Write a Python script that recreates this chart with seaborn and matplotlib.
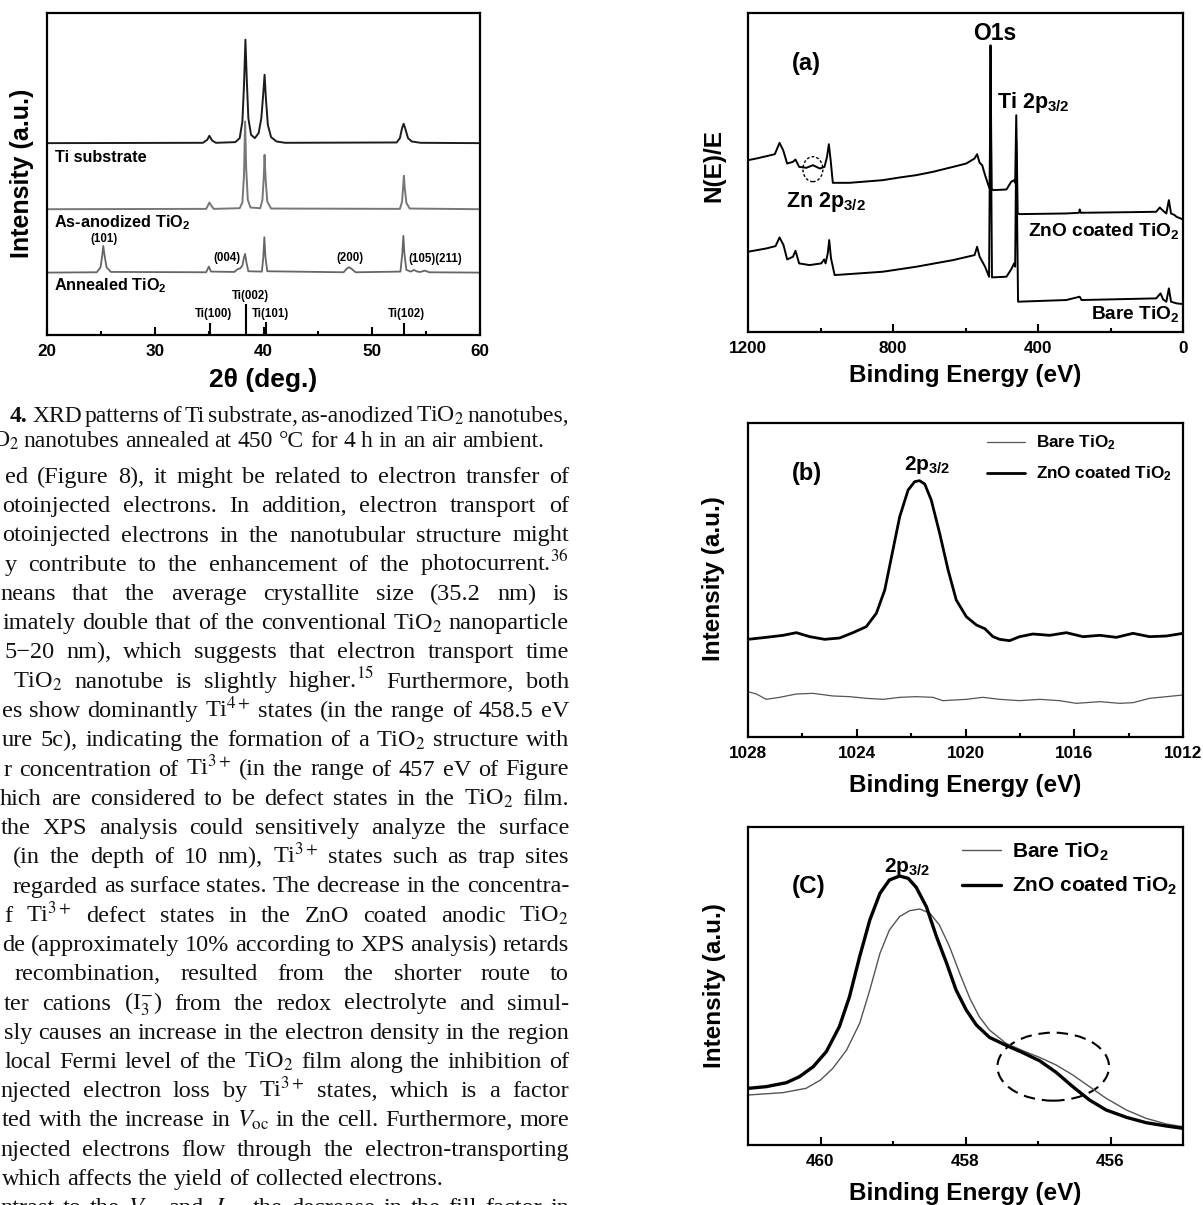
import matplotlib
matplotlib.use("Agg")
import matplotlib.pyplot as plt
from matplotlib.patches import Ellipse
import seaborn as sns

# ---------------------------------------------------------------- data
# XRD patterns: 2theta (deg) and intensity (a.u.)
ti_sub_2t = [20, 34.4, 34.8, 35.0, 35.25, 35.6, 37.4, 37.8, 38.05, 38.2, 38.33, 38.45, 38.6, 38.85,
             39.2, 39.55, 39.8, 39.97, 40.1, 40.22, 40.4, 40.7, 41.2, 42.0, 52.3, 52.6, 52.8, 52.95,
             53.1, 53.35, 53.7, 54.5, 59.9]
ti_sub_int = [57.5, 57.6, 58.5, 59.7, 58.3, 57.6, 57.8, 59.0, 64.0, 75.0, 88.5, 77.0, 65.0, 60.0,
              59.0, 60.5, 65.0, 72.0, 78.0, 71.0, 63.0, 59.3, 58.0, 57.6, 57.7, 59.0, 62.0, 63.3,
              61.8, 59.0, 58.0, 57.6, 57.5]

as_anod_2t = [20, 34.7, 34.9, 35.0, 35.15, 35.4, 37.8, 38.05, 38.2, 38.3, 38.4, 38.55, 38.8, 39.7,
              39.9, 40.02, 40.1, 40.2, 40.35, 40.7, 52.6, 52.8, 52.9, 52.97, 53.05, 53.2, 53.5, 59.9]
as_anod_int = [37.7, 37.8, 39.0, 39.7, 38.9, 37.8, 38.0, 39.7, 48.0, 64.0, 50.0, 40.5, 38.2, 38.0,
               40.5, 47.0, 54.0, 46.5, 40.0, 37.9, 37.8, 40.0, 44.5, 47.7, 44.0, 39.6, 37.9, 37.7]

annealed_2t = [20, 24.6, 24.95, 25.1, 25.2, 25.32, 25.5, 25.9, 34.7, 34.95, 35.15, 37.3, 37.6, 37.85,
               38.05, 38.2, 38.3, 38.42, 38.6, 39.85, 39.98, 40.08, 40.18, 40.35, 47.4, 47.7, 47.9,
               48.15, 48.5, 52.65, 52.82, 52.92, 53.02, 53.2, 53.6, 53.9, 54.2, 54.5, 54.9, 55.3, 59.9]
annealed_int = [18.7, 18.8, 20.3, 23.8, 26.7, 23.8, 20.3, 18.9, 18.8, 20.5, 19.0, 18.9, 19.7, 20.0,
                20.8, 23.3, 24.3, 21.8, 19.1, 19.0, 23.3, 29.3, 23.3, 19.1, 18.8, 19.9, 20.3,
                19.8, 18.8, 19.0, 24.3, 29.7, 24.3, 19.5, 19.0, 19.5, 19.0, 18.9, 19.3, 18.8, 18.7]

ti_ref_pos = [35.1, 38.4, 40.2, 53.0]
ti_ref_height = [3.7, 9.3, 4.0, 3.5]
ti_ref_labels = ["Ti(100)", "Ti(002)", "Ti(101)", "Ti(102)"]

anatase_labels = ["(101)", "(004)", "(200)", "(105)(211)"]

# XPS survey: binding energy (eV) and N(E)/E
zno_survey_be = [1200, 1177, 1149, 1126, 1113, 1103, 1092, 1076, 1069, 1059, 1039, 1021, 1002, 989,
                 982, 977, 972, 966, 920, 828, 782, 736, 690, 634, 598, 575, 568, 561, 554, 546,
                 537, 533, 531, 528, 524, 487, 474, 466, 463, 460, 456, 451, 322, 287, 285, 282,
                 138, 74, 64, 57, 46, 39, 33, 23, 18, 0]
zno_survey_int = [51.6, 52.1, 52.8, 53.4, 56.8, 54.6, 50.6, 51.1, 51.8, 49.6, 49.3, 50.1, 49.1, 49.6,
                  52.6, 56.4, 51.6, 44.8, 44.8, 45.6, 46.4, 47.1, 48.1, 49.6, 50.6, 52.1, 53.4, 50.8,
                  50.1, 47.1, 44.1, 43.1, 86.1, 43.1, 42.6, 42.8, 45.1, 45.6, 44.8, 65.1, 35.6, 35.4,
                  35.6, 35.8, 36.8, 35.8, 36.0, 36.1, 37.4, 36.6, 35.6, 39.6, 35.6, 35.1, 34.6, 33.8]

bare_survey_be = [1200, 1149, 1124, 1113, 1102, 1092, 1076, 1069, 1059, 1030, 998, 990, 986, 980, 976,
                  971, 961, 920, 828, 736, 634, 575, 568, 561, 546, 535, 531, 527, 487, 474, 466,
                  463, 460, 455, 322, 285, 280, 74, 62, 55, 46, 39, 33, 18, 0]
bare_survey_int = [24.1, 25.1, 25.8, 28.4, 26.1, 21.8, 22.6, 24.4, 20.6, 20.1, 20.6, 21.8, 20.6, 23.6,
                   27.6, 22.1, 17.1, 17.4, 18.1, 19.6, 21.6, 23.1, 25.6, 22.6, 19.6, 16.6, 79.6, 16.4,
                   16.6, 18.8, 20.6, 19.6, 57.6, 9.1, 9.6, 10.6, 9.6, 10.1, 11.6, 9.8, 9.1, 13.1, 9.1,
                   8.6, 8.4]

# Zn 2p3/2 core level
zn_zno_be = [1028.00, 1027.33, 1026.71, 1026.22, 1025.73, 1025.18, 1024.63, 1024.14, 1023.65, 1023.28,
             1022.97, 1022.67, 1022.42, 1022.11, 1021.87, 1021.69, 1021.50, 1021.26, 1020.95, 1020.64,
             1020.34, 1019.97, 1019.60, 1019.29, 1018.99, 1018.74, 1018.38, 1018.01, 1017.52, 1016.90,
             1016.29, 1015.68, 1015.06, 1014.45, 1013.84, 1013.23, 1012.61, 1012.00]
zn_zno_int = [29.3, 29.9, 30.5, 31.3, 30.1, 29.3, 29.7, 31.3, 33.1, 37.1, 44.1, 56.1, 66.1, 74.1, 76.6,
              76.9, 75.9, 71.1, 61.1, 50.1, 41.1, 36.1, 33.6, 32.5, 30.1, 29.3, 28.9, 30.1, 30.9,
              30.5, 31.3, 30.1, 30.5, 29.9, 31.1, 30.1, 30.3, 31.1]

zn_bare_be = [1028.00, 1027.69, 1027.33, 1026.84, 1026.22, 1025.61, 1024.87, 1024.26, 1023.65, 1023.03,
              1022.42, 1021.81, 1021.20, 1020.83, 1019.97, 1019.36, 1018.74, 1018.01, 1017.27, 1016.54,
              1015.92, 1015.06, 1014.33, 1013.84, 1013.23, 1012.61, 1012.00]
zn_bare_int = [13.6, 12.9, 11.3, 11.9, 12.9, 13.1, 12.3, 12.1, 11.6, 11.3, 11.9, 12.1, 11.9, 10.9, 11.3,
               11.9, 11.3, 10.9, 11.3, 10.9, 10.1, 10.6, 10.1, 10.3, 11.6, 12.1, 12.6]

# Ti 2p3/2 core level
ti_zno_be = [461.00, 460.75, 460.47, 460.29, 460.10, 459.92, 459.74, 459.60, 459.46, 459.32, 459.18,
             459.05, 458.91, 458.79, 458.68, 458.54, 458.40, 458.26, 458.13, 457.99, 457.85, 457.67,
             457.44, 457.21, 456.98, 456.75, 456.52, 456.29, 456.06, 455.78, 455.51, 455.23, 455.00]
ti_zno_int = [17.0, 17.5, 18.7, 20.5, 23.5, 28.0, 35.5, 44.5, 56.5, 67.5, 75.5, 79.5, 80.7, 80.0, 77.3,
              71.5, 62.5, 54.5, 46.5, 40.5, 36.0, 32.3, 29.9, 27.7, 25.3, 21.8, 17.5, 13.5, 10.5, 8.3,
              6.7, 5.7, 5.0]

ti_bare_be = [461.00, 460.52, 460.20, 460.00, 459.83, 459.64, 459.46, 459.32, 459.18, 459.05, 458.91,
              458.77, 458.63, 458.49, 458.36, 458.22, 458.08, 457.94, 457.81, 457.67, 457.44, 457.21,
              456.98, 456.75, 456.52, 456.29, 456.06, 455.78, 455.51, 455.23, 455.00]
ti_bare_int = [15.0, 15.7, 17.0, 19.5, 23.0, 28.5, 36.5, 46.5, 57.5, 64.5, 68.5, 70.3, 70.8, 69.5, 66.0,
               59.5, 51.5, 44.0, 38.5, 34.5, 30.5, 28.3, 26.3, 24.0, 21.0, 17.5, 14.0, 10.5, 8.0, 6.3,
               5.5]

xrd_ticks = [20, 30, 40, 50, 60]
survey_ticks = [1200, 800, 400, 0]
zn_ticks = [1028, 1024, 1020, 1016, 1012]
ti_ticks = [460, 458, 456]

# ---------------------------------------------------------------- page text
caption_lines = [
    (32, 422, "XRD patterns of Ti substrate, as-anodized TiO$_2$ nanotubes,", True),
    (23, 447, "nanotubes annealed at 450 \u00b0C for 4 h in an air ambient.", False),
]
body_lines = [
    (5, "ed (Figure 8), it might be related to electron transfer of", True),
    (2, "otoinjected electrons. In addition, electron transport of", True),
    (2, "otoinjected electrons in the nanotubular structure might", True),
    (5, "y contribute to the enhancement of the photocurrent.$^{36}$", True),
    (0, "neans that the average crystallite size (35.2 nm) is", True),
    (3, "imately double that of the conventional TiO$_2$ nanoparticle", True),
    (4, "5\u221220 nm), which suggests that electron transport time", True),
    (13, "TiO$_2$ nanotube is slightly higher.$^{15}$ Furthermore, both", True),
    (2, "es show dominantly Ti$^{4+}$ states (in the range of 458.5 eV", True),
    (2, "ure 5c), indicating the formation of a TiO$_2$ structure with", True),
    (4, "r concentration of Ti$^{3+}$ (in the range of 457 eV of Figure", True),
    (0, "hich are considered to be defect states in the TiO$_2$ film.", True),
    (1, "the XPS analysis could sensitively analyze the surface", True),
    (13, "(in the depth of 10 nm), Ti$^{3+}$ states such as trap sites", True),
    (13, "regarded as surface states. The decrease in the concentra-", True),
    (4, "f Ti$^{3+}$ defect states in the ZnO coated anodic TiO$_2$", True),
    (2, "de (approximately 10% according to XPS analysis) retards", True),
    (15, "recombination, resulted from the shorter route to", True),
    (4, "ter cations (I$_3^{-}$) from the redox electrolyte and simul-", True),
    (4, "sly causes an increase in the electron density in the region", True),
    (5, "local Fermi level of the TiO$_2$ film along the inhibition of", True),
    (0, "njected electron loss by Ti$^{3+}$ states, which is a factor", True),
    (2, "ted with the increase in $V_{\\mathrm{oc}}$ in the cell. Furthermore, more", True),
    (0, "njected electrons flow through the electron-transporting", True),
    (2, "which affects the yield of collected electrons.", False),
    (0, "ntrast to the $V_{\\mathrm{oc}}$ and $J_{\\mathrm{sc}}$, the decrease in the fill factor in", True),
]

# ---------------------------------------------------------------- style
sns.set_theme(style="ticks")
plt.rcParams.update({
    "font.family": ["Liberation Sans", "DejaVu Sans"],
    "font.weight": "normal",
    "axes.labelweight": "bold",
    "mathtext.fontset": "custom",
    "mathtext.rm": "Liberation Sans:bold",
    "mathtext.it": "Liberation Sans:italic:bold",
    "mathtext.bf": "Liberation Sans:bold",
    "mathtext.sf": "Liberation Sans:bold",
    "axes.edgecolor": "black",
    "axes.linewidth": 1.6,
    "text.color": "black",
    "axes.labelcolor": "black",
    "xtick.color": "black",
    "figure.facecolor": "white",
    "axes.facecolor": "white",
})

W, H = 1203, 1205
fig = plt.figure(figsize=(W / 100, H / 100), dpi=100)
B = "bold"


def fx(px):
    return px / W


def fy(py):
    return 1 - py / H


def add_axes(left, top, right, bottom):
    return fig.add_axes([left / W, 1 - bottom / H, (right - left) / W, (bottom - top) / H])


def style_axes(ax, xlim, ylim, major, minor):
    ax.set_xlim(*xlim)
    ax.set_ylim(*ylim)
    ax.set_xticks(major, labels=[str(v) for v in major], fontweight=B)
    ax.set_xticks(minor, minor=True)
    ax.set_yticks([])
    ax.tick_params(axis="x", which="both", direction="in", top=False, bottom=True,
                   width=1.5, colors="black")
    ax.tick_params(axis="x", which="major", length=5.5, labelsize=12.3, pad=6.5)
    ax.tick_params(axis="x", which="minor", length=3)
    for sp in ax.spines.values():
        sp.set_visible(True)
        sp.set_linewidth(1.6)
        sp.set_color("black")


def line(ax, x, y, color, lw, label=None):
    sns.lineplot(x=x, y=y, ax=ax, color=color, linewidth=lw, sort=False,
                 estimator=None, label=label, legend=label is not None)


# ---------------------------------------------------------------- XRD
ax0 = add_axes(47, 13, 480, 335)
line(ax0, ti_sub_2t, ti_sub_int, "#1c1c1c", 1.4)
line(ax0, as_anod_2t, as_anod_int, "#777777", 1.4)
line(ax0, annealed_2t, annealed_int, "#666666", 1.3)
ax0.vlines(ti_ref_pos, 0, ti_ref_height, color="black", lw=1.5)
style_axes(ax0, (20, 60), (0, 96.5), xrd_ticks, [25, 35, 45, 55])
ax0.set_xlabel("2\u03b8 (deg.)", fontsize=19, fontweight=B, va="top")
ax0.xaxis.set_label_coords(0.5, -0.103)
ax0.set_ylabel("Intensity (a.u.)", fontsize=18, fontweight=B)
ax0.yaxis.set_label_coords(-0.03, 0.503)

ax0.text(20.77, 51.7, "Ti substrate", fontsize=11.7, fontweight=B, ha="left", va="baseline")
ax0.text(20.68, 32.3, "As-anodized TiO$_2$", fontsize=11.7, fontweight=B, ha="left", va="baseline")
ax0.text(20.68, 13.3, "Annealed TiO$_2$", fontsize=11.7, fontweight=B, ha="left", va="baseline")
for (px, py), lab in zip([(25.23, 28.7), (36.6, 23.2), (47.94, 23.2), (55.85, 22.7)], anatase_labels):
    ax0.text(px, py, lab, fontsize=8.3, fontweight=B, ha="center", va="center")
for (px, py), lab in zip([(35.38, 6.3), (38.77, 11.7), (40.68, 6.3), (53.17, 6.3)], ti_ref_labels):
    ax0.text(px, py, lab, fontsize=8.3, fontweight=B, ha="center", va="center")

# ---------------------------------------------------------------- XPS survey
axa = add_axes(748, 13, 1183, 332)
line(axa, zno_survey_be, zno_survey_int, "black", 1.4)
line(axa, bare_survey_be, bare_survey_int, "black", 1.4)
style_axes(axa, (1200, 0), (0, 95.8), survey_ticks, [1000, 600, 200])
axa.set_xlabel("Binding Energy (eV)", fontsize=17.5, fontweight=B, va="top")
axa.xaxis.set_label_coords(0.5, -0.1)
axa.set_ylabel("N(E)/E", fontsize=17.5, fontweight=B)
axa.yaxis.set_label_coords(-0.051, 0.523)
axa.text(520, 87.8, "O1s", fontsize=16.5, fontweight=B, ha="center", va="baseline")
axa.text(1039, 80.6, "(a)", fontsize=17, fontweight=B, ha="center", va="center")
axa.text(512, 67.4, "Ti 2p$_{3/2}$", fontsize=15.5, fontweight=B, ha="left", va="baseline")
axa.text(1096, 37.6, "Zn 2p$_{3/2}$", fontsize=15.5, fontweight=B, ha="left", va="baseline")
axa.text(9, 28.8, "ZnO coated TiO$_2$", fontsize=13.8, fontweight=B, ha="right", va="baseline")
axa.text(9, 3.8, "Bare TiO$_2$", fontsize=13.8, fontweight=B, ha="right", va="baseline")
axa.add_patch(Ellipse((1021, 48.9), 55, 7.5, fill=False, ec="black", lw=1.0, ls=(0, (2, 1.5))))

# ---------------------------------------------------------------- Zn 2p
axb = add_axes(748, 423, 1183, 737)
line(axb, zn_bare_be, zn_bare_int, "#555555", 0.9, "Bare TiO$_2$")
line(axb, zn_zno_be, zn_zno_int, "black", 2.0, "ZnO coated TiO$_2$")
style_axes(axb, (1028, 1012), (0, 94.2), zn_ticks, [1026, 1022, 1018, 1014])
axb.set_xlabel("Binding Energy (eV)", fontsize=17.5, fontweight=B, va="top")
axb.xaxis.set_label_coords(0.5, -0.117)
axb.set_ylabel("Intensity (a.u.)", fontsize=17.5, fontweight=B)
axb.yaxis.set_label_coords(-0.053, 0.503)
axb.text(1025.85, 79.1, "(b)", fontsize=17, fontweight=B, ha="center", va="center")
axb.text(1021.42, 80.1, "2p$_{3/2}$", fontsize=15, fontweight=B, ha="center", va="baseline")
axb.legend(loc="upper right", bbox_to_anchor=(0.975, 0.966), frameon=False,
           prop=dict(family="Liberation Sans", weight="bold", size=12.3),
           handlelength=2.25, handletextpad=0.65, labelspacing=0.72,
           borderpad=0, borderaxespad=0)

# ---------------------------------------------------------------- Ti 2p
axc = add_axes(748, 827, 1183, 1145)
line(axc, ti_bare_be, ti_bare_int, "#555555", 1.0, "Bare TiO$_2$")
line(axc, ti_zno_be, ti_zno_int, "black", 2.4, "ZnO coated TiO$_2$")
style_axes(axc, (461, 455), (0, 95.4), ti_ticks, [459, 457])
axc.set_xlabel("Binding Energy (eV)", fontsize=17.5, fontweight=B, va="top")
axc.xaxis.set_label_coords(0.5, -0.117)
axc.set_ylabel("Intensity (a.u.)", fontsize=17.5, fontweight=B)
axc.yaxis.set_label_coords(-0.051, 0.5)
axc.text(460.17, 77.5, "(C)", fontsize=17.5, fontweight=B, ha="center", va="center")
axc.text(458.81, 82.0, "2p$_{3/2}$", fontsize=15, fontweight=B, ha="center", va="baseline")
axc.add_patch(Ellipse((456.79, 23.5), 1.54, 20.4, fill=False, ec="black", lw=1.5,
                      ls=(0, (5.5, 3.3))))
axc.legend(loc="upper right", bbox_to_anchor=(0.986, 0.958), frameon=False,
           prop=dict(family="Liberation Sans", weight="bold", size=15),
           handlelength=1.9, handletextpad=0.5, labelspacing=0.6,
           borderpad=0, borderaxespad=0)

# ---------------------------------------------------------------- page text (justified columns)
renderer = fig.canvas.get_renderer()
SERIF = "Liberation Serif"
INK = "#111111"


def set_words(words, left, right, base, size, justify, weight="normal"):
    objs = [fig.text(0, fy(base), w, fontsize=size, family=SERIF, fontweight=weight,
                     math_fontfamily="stix", ha="left", va="baseline", color=INK)
            for w in words]
    widths = [t.get_window_extent(renderer).width for t in objs]
    space = 0.25 * size * 100 / 72
    gap = space
    if justify and len(words) > 1:
        gap = max((right - left - sum(widths)) / (len(words) - 1), 0.4 * space)
    x = left
    for t, w in zip(objs, widths):
        t.set_x(fx(x))
        x += w + gap


RIGHT = 569
CAP_SIZE = 17
BODY_SIZE = 17.5

fig.text(fx(10), fy(422), "4.", fontsize=CAP_SIZE, family=SERIF, fontweight="bold",
         ha="left", va="baseline", color=INK)
fig.text(fx(-8), fy(447), "O$_2$", fontsize=CAP_SIZE, family=SERIF, fontweight="normal",
         math_fontfamily="stix", ha="left", va="baseline", color=INK)
for left, base, txt, just in caption_lines:
    set_words(txt.split(" "), left, RIGHT, base, CAP_SIZE, just)

for k, (left, txt, just) in enumerate(body_lines):
    set_words(txt.split(" "), left, RIGHT, 483 + 29.25 * k, BODY_SIZE, just)

fig.savefig("out.png", dpi=100)
